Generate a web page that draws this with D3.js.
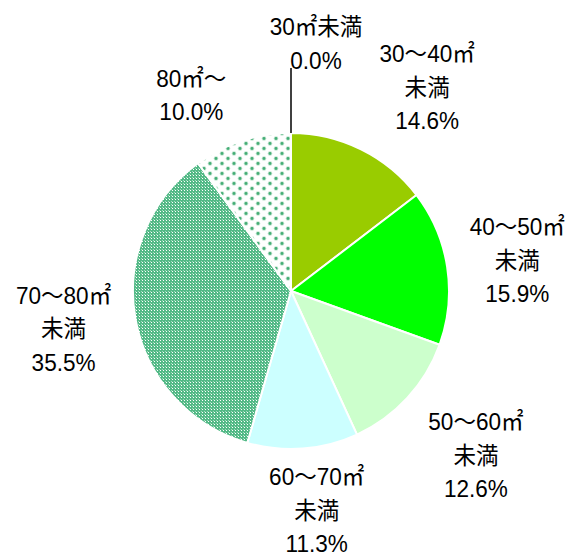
<!DOCTYPE html>
<html>
<head>
<meta charset="utf-8">
<script src="https://cdn.jsdelivr.net/npm/d3@7"></script>
<style>
  html, body { margin: 0; padding: 0; background: #fff; }
  svg { display: block; }
</style>
</head>
<body>
<svg id="chart" width="574" height="557"></svg>
<script>
// ---- data ----
const categories = ["30㎡未満", "30～40㎡未満", "40～50㎡未満", "50～60㎡未満", "60～70㎡未満", "70～80㎡未満", "80㎡～"];
const labelLines = [["30㎡未満"], ["30～40㎡", "未満"], ["40～50㎡", "未満"], ["50～60㎡", "未満"], ["60～70㎡", "未満"], ["70～80㎡", "未満"], ["80㎡～"]];
const values = [0.0, 14.6, 15.9, 12.6, 11.3, 35.5, 10.0];
const fills = ["#ffffff", "#99CC00", "#00FF00", "#CCFFCC", "#CCFFFF", "url(#checker)", "url(#dots)"];

// ---- layout (not data) ----
const cx = 291, cy = 291, R = 158, labelR = 235;
const labelNudge = [[25, -21], [32, -18], [-6, -20], [12, -20], [8, -40], [4, -28], [-27, 19]];
const lineGap = 33.5;

const svg = d3.select("#chart");
const defs = svg.append("defs");

// checker pattern
const chk = defs.append("pattern").attr("id", "checker").attr("patternUnits", "userSpaceOnUse")
  .attr("width", 3).attr("height", 3);
chk.append("rect").attr("width", 3).attr("height", 3).attr("fill", "#52b986");
chk.append("rect").attr("x", 1).attr("y", 1).attr("width", 1).attr("height", 1).attr("fill", "#ffffff");
chk.append("rect").attr("x", 0).attr("y", 0).attr("width", 1).attr("height", 1).attr("fill", "#a3dabc");

// dotted pattern
const dots = defs.append("pattern").attr("id", "dots").attr("patternUnits", "userSpaceOnUse")
  .attr("width", 12).attr("height", 10);
dots.append("rect").attr("width", 12).attr("height", 10).attr("fill", "#ffffff");
[[3, 2.5], [9, 7.5]].forEach(p => {
  dots.append("circle").attr("cx", p[0]).attr("cy", p[1]).attr("r", 2.3).attr("fill", "#bfe5cf");
  dots.append("circle").attr("cx", p[0]).attr("cy", p[1]).attr("r", 1.4).attr("fill", "#45ad76");
});

const pie = d3.pie().sort(null).value(d => d).startAngle(0).endAngle(2 * Math.PI);
const arcs = pie(values);
const arc = d3.arc().innerRadius(0).outerRadius(R);
const labelArc = d3.arc().innerRadius(labelR).outerRadius(labelR);

const g = svg.append("g").attr("transform", `translate(${cx},${cy})`);

g.selectAll("path.slice").data(arcs).enter().append("path")
  .attr("class", "slice")
  .attr("d", arc)
  .attr("fill", (d, i) => fills[i])
  .attr("stroke", "#ffffff")
  .attr("stroke-width", 2)
  .attr("stroke-linejoin", "round");

// leader line for the zero slice
const zero = arcs[0];
const lx = Math.sin(zero.startAngle) * R;
g.append("line")
  .attr("x1", lx).attr("y1", -R)
  .attr("x2", lx).attr("y2", -labelR + 12)
  .attr("stroke", "#000").attr("stroke-width", 1.5);

// labels
const fmt = d3.format(".1f");
arcs.forEach((d, i) => {
  const c = labelArc.centroid(d);
  const x = c[0] + labelNudge[i][0];
  const y = c[1] + labelNudge[i][1];
  const lines = labelLines[i].concat([fmt(values[i]) + "%"]);
  lines.forEach((s, k) => {
    g.append("text")
      .attr("transform", `translate(${x},${y + k * lineGap}) scale(0.94,1)`)
      .attr("text-anchor", "middle")
      .attr("font-family", "'Liberation Sans', 'Noto Sans CJK JP', sans-serif")
      .attr("font-size", 24)
      .attr("fill", "#000")
      .text(s);
  });
});
</script>
</body>
</html>
